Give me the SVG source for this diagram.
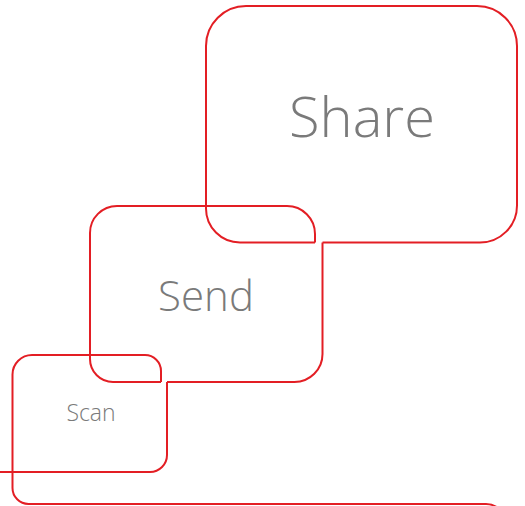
<svg xmlns="http://www.w3.org/2000/svg" width="525" height="506" viewBox="0 0 525 506">
  <style>
    .outline { fill: none; stroke: #e31e24; stroke-width: 2; stroke-linejoin: round; }
    .label { fill: #7a7a7a; font-family: "Open Sans", "Liberation Sans", sans-serif; font-weight: 300; text-anchor: middle; }
  </style>
  <rect width="525" height="506" fill="#ffffff"/>
  <g id="share">
    <path class="outline" d="M 315,242.5 L 240,242.5 A 34 34 0 0 1 206,208.5 L 206,46 A 40 40 0 0 1 246,6 L 477,6 A 40 40 0 0 1 517,46 L 517,205.5 A 37 37 0 0 1 480,242.5 L 322.5,242.5"/>
    <text class="label" x="362" y="137" font-size="56">Share</text>
  </g>
  <g id="send">
    <path class="outline" d="M 315,242.5 L 315,234 A 28 28 0 0 0 287,206 L 117,206 A 27 27 0 0 0 90,233 L 90,359 A 23 23 0 0 0 113,382 L 161,382"/>
    <path class="outline" d="M 322.5,242.5 L 322.5,354 A 28 28 0 0 1 294.5,382 L 167,382"/>
    <text class="label" x="206" y="311" font-size="42">Send</text>
  </g>
  <g id="scan">
    <path class="outline" d="M 161,382 L 161,371 A 16 16 0 0 0 145,355 L 32,355 A 19.5 19.5 0 0 0 12.5,374.5 L 12.5,488 A 16 16 0 0 0 28.5,504 L 486,504 A 20 20 0 0 1 506,524"/>
    <path class="outline" d="M 167,382 L 167,455 A 17 17 0 0 1 150,472 L 0,472"/>
    <text class="label" x="91" y="421" font-size="23">Scan</text>
  </g>
  <g id="connectors"/>
</svg>
